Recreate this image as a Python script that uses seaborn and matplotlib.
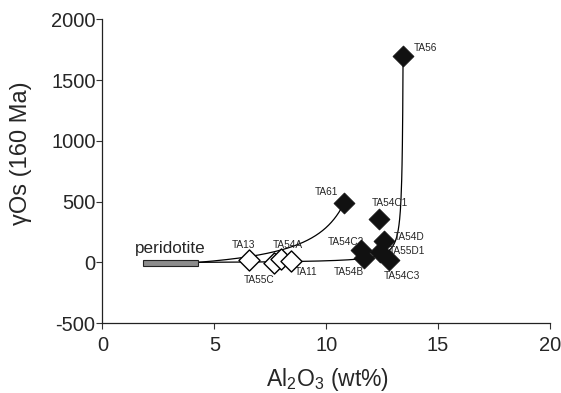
import numpy as np
import pandas as pd
import matplotlib
matplotlib.use("Agg")
import matplotlib.pyplot as plt
import seaborn as sns

# ---- data ----
open_names = ["TA13", "TA55C", "TA54A", "TA11"]
open_al = [6.56, 7.68, 7.99, 8.44]
open_gos = [16, -8, 25, 8]

solid_names = ["TA61", "TA56", "TA54C1", "TA54D", "TA55D1", "TA54C2", "TA54B", "TA54C3"]
solid_al = [10.8, 13.44, 12.37, 12.59, 12.41, 11.56, 11.70, 12.81]
solid_gos = [487, 1700, 355, 173, 82, 99, 33, 16]

# peridotite field (Al2O3 range, gamma Os)
perid_al = [1.81, 4.27]
perid_gos = -8
perid_h = 50

# mixing endmembers: peridotite -> sample, with Os concentration ratio
mix_start = (4.27, 0.0)
mix_ends = [(10.8, 487.0), (13.44, 1700.0)]
mix_ratio = [0.2, 0.0045]

xticks = [0, 5, 10, 15, 20]
yticks = [-500, 0, 500, 1000, 1500, 2000]

# label offsets (points)
label_off = {
    "TA13": (-4, 11, "center"), "TA55C": (-11, -12, "center"),
    "TA54A": (5, 10, "center"), "TA11": (11, -8, "center"),
    "TA61": (-13, 8, "center"), "TA56": (8, 6, "left"),
    "TA54C1": (8, 11.5, "center"), "TA54D": (7, 3, "left"),
    "TA55D1": (6, 1, "left"), "TA54C2": (-11, 6, "center"),
    "TA54B": (-11, -10, "center"), "TA54C3": (9.4, -11.5, "center"),
}

sns.set_style("ticks")
plt.rcParams["font.family"] = ["Liberation Sans", "DejaVu Sans"]
plt.rcParams["mathtext.fontset"] = "custom"
plt.rcParams["mathtext.rm"] = "Liberation Sans"
plt.rcParams["mathtext.it"] = "Liberation Sans:italic"
plt.rcParams["axes.unicode_minus"] = False

fig = plt.figure(figsize=(5.61, 3.93), dpi=100)
ax = fig.add_axes([0.1827, 0.178, 0.7973, 0.7724])

# mixing curves
for (x1, g1), r in zip(mix_ends, mix_ratio):
    x0, g0 = mix_start
    f = np.linspace(0, 1, 600)
    xs = f * x1 + (1 - f) * x0
    gs = (f * r * g1 + (1 - f) * g0) / (f * r + (1 - f))
    dfc = pd.DataFrame({"x": xs, "y": gs})
    sns.lineplot(data=dfc, x="x", y="y", sort=False, estimator=None,
                 color="black", lw=0.9, ax=ax)

# peridotite bar
ax.add_patch(plt.Rectangle((perid_al[0], perid_gos - perid_h / 2),
                           perid_al[1] - perid_al[0], perid_h,
                           facecolor="#8c8c8c", edgecolor="#222222", lw=0.8, zorder=3))
ax.text(1.45, 74, "peridotite", fontsize=12.3, ha="left", va="baseline")

dfo = pd.DataFrame({"al": open_al, "g": open_gos})
dfs = pd.DataFrame({"al": solid_al, "g": solid_gos})
sns.scatterplot(data=dfo, x="al", y="g", marker="D", s=115, facecolor="white",
                edgecolor="black", linewidth=1.0, ax=ax, zorder=4)
sns.scatterplot(data=dfs, x="al", y="g", marker="D", s=115, color="#111111",
                edgecolor="#111111", linewidth=0.5, ax=ax, zorder=4)

for names, xs, ys in [(open_names, open_al, open_gos), (solid_names, solid_al, solid_gos)]:
    for n, x, y in zip(names, xs, ys):
        dx, dy, ha = label_off[n]
        ax.annotate(n, (x, y), xytext=(dx, dy), textcoords="offset points",
                    fontsize=7.3, ha=ha, va="center")

ax.set_xlim(0, 20)
ax.set_ylim(-500, 2000)
ax.set_xticks(xticks)
ax.set_yticks(yticks)
ax.tick_params(labelsize=14.5, length=4, width=0.8, color="#333333")
ax.tick_params(axis="x", pad=5)
ax.tick_params(axis="y", pad=1)
ax.set_xlabel("Al$_2$O$_3$ (wt%)", fontsize=16.5, va="top")
ax.xaxis.set_label_coords(0.503, -0.14)
ax.set_ylabel("γOs (160 Ma)", fontsize=17)
ax.yaxis.set_label_coords(-0.158, 0.56)
for s in ["left", "bottom"]:
    ax.spines[s].set_linewidth(0.9)
    ax.spines[s].set_color("#222222")
sns.despine(ax=ax)

fig.savefig("out.png", dpi=100)
